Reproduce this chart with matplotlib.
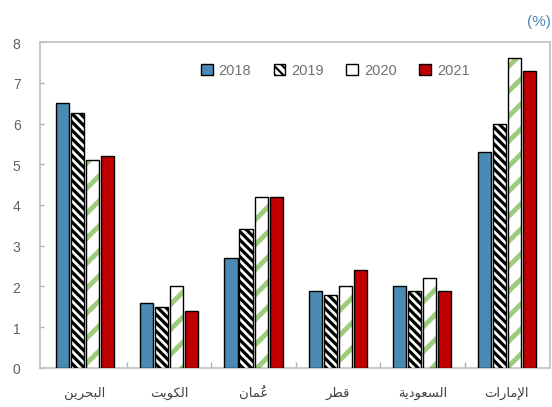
import numpy as np
import matplotlib
matplotlib.use("Agg")
import matplotlib.pyplot as plt
from matplotlib.patches import Patch

plt.rcParams['font.family'] = ['Liberation Sans', 'DejaVu Sans']

# data
countries = ['البحرين', 'الكويت', 'عُمان', 'قطر', 'السعودية', 'الإمارات']
years = ['2018', '2019', '2020', '2021']
v2018 = [6.5, 1.6, 2.7, 1.9, 2.0, 5.3]
v2019 = [6.25, 1.5, 3.4, 1.8, 1.9, 6.0]
v2020 = [5.1, 2.0, 4.2, 2.0, 2.2, 7.6]
v2021 = [5.2, 1.4, 4.2, 2.4, 1.9, 7.3]

# arabic letters -> presentation forms (iso, final[, initial, medial])
FORMS = {
    'ا': (0xFE8D, 0xFE8E), 'إ': (0xFE87, 0xFE88), 'د': (0xFEA9, 0xFEAA),
    'ر': (0xFEAD, 0xFEAE), 'و': (0xFEED, 0xFEEE), 'ة': (0xFE93, 0xFE94),
    'ب': (0xFE8F, 0xFE90, 0xFE91, 0xFE92), 'ت': (0xFE95, 0xFE96, 0xFE97, 0xFE98),
    'ح': (0xFEA1, 0xFEA2, 0xFEA3, 0xFEA4), 'س': (0xFEB1, 0xFEB2, 0xFEB3, 0xFEB4),
    'ط': (0xFEC1, 0xFEC2, 0xFEC3, 0xFEC4), 'ع': (0xFEC9, 0xFECA, 0xFECB, 0xFECC),
    'ق': (0xFED5, 0xFED6, 0xFED7, 0xFED8), 'ك': (0xFED9, 0xFEDA, 0xFEDB, 0xFEDC),
    'ل': (0xFEDD, 0xFEDE, 0xFEDF, 0xFEE0), 'م': (0xFEE1, 0xFEE2, 0xFEE3, 0xFEE4),
    'ن': (0xFEE5, 0xFEE6, 0xFEE7, 0xFEE8), 'ي': (0xFEF1, 0xFEF2, 0xFEF3, 0xFEF4),
    'لا': (0xFEFB, 0xFEFC), 'لإ': (0xFEF9, 0xFEFA),
}


def shape(word):
    toks = []
    i = 0
    while i < len(word):
        c = word[i]
        if c == 'ل' and i + 1 < len(word) and word[i + 1] in 'اإ':
            toks.append([c + word[i + 1], ''])
            i += 2
        elif c in FORMS:
            toks.append([c, ''])
            i += 1
        else:
            # diacritic, stick it on the previous letter
            toks[-1][1] += c
            i += 1
    out = []
    for k, (t, mark) in enumerate(toks):
        f = FORMS[t]
        jp = k > 0 and len(FORMS[toks[k - 1][0]]) == 4
        jn = len(f) == 4 and k < len(toks) - 1
        if jp and jn:
            g = f[3]
        elif jp:
            g = f[1]
        elif jn:
            g = f[2]
        else:
            g = f[0]
        out.append(mark + chr(g))
    return ''.join(out[::-1])


# drawn at 75 dpi so the hatch cells come out at the spacing of the original
S = 100 / 75
fig = plt.figure(figsize=(5.52 * S, 4.08 * S), dpi=75)
ax = fig.add_axes([0.0725, 0.0956, 0.9235, 0.799])

x = np.arange(len(countries))
w = 0.155
step = 0.178
off = [-1.5 * step, -0.5 * step, 0.5 * step, 1.5 * step]
lw = 1.0 * S

plt.rcParams['hatch.linewidth'] = 2.3 * S
b1 = ax.bar(x + off[0], v2018, w, color='#4b8bb3', edgecolor='black', linewidth=lw, zorder=3)
b2 = ax.bar(x + off[1], v2019, w, color='white', edgecolor='black', hatch='\\\\\\', linewidth=lw, zorder=3)
plt.rcParams['hatch.linewidth'] = 3.5 * S
ax.bar(x + off[2], v2020, w, color='white', edgecolor='#9ccc7c', hatch='/', linewidth=0, zorder=3)
b3 = ax.bar(x + off[2], v2020, w, color='none', edgecolor='black', linewidth=lw, zorder=4)
b4 = ax.bar(x + off[3], v2021, w, color='#c00000', edgecolor='black', linewidth=lw, zorder=3)

ax.set_xlim(-0.53, 5.51)
ax.set_ylim(0, 8)
ax.set_yticks(range(0, 9))
ax.set_xticks(x)
ax.set_xticklabels([shape(c) for c in countries], fontsize=9.5 * S, color='#404040',
                   family='DejaVu Sans')
ax.set_xticks(np.arange(0.5, 5.0, 1.0), minor=True)
ax.tick_params(axis='x', which='major', length=0, pad=13 * S)
ax.tick_params(axis='x', which='minor', direction='in', length=4 * S, width=S, color='#b0b0b0')
ax.tick_params(axis='y', direction='in', length=3 * S, width=S, color='#b0b0b0',
               labelsize=10 * S, labelcolor='#606060', pad=14 * S)
for s in ax.spines.values():
    s.set_color('#c0c0c0')
    s.set_linewidth(1.2 * S)

plt.rcParams['hatch.linewidth'] = 1.5 * S
handles = [Patch(facecolor='#4b8bb3', edgecolor='black', linewidth=lw),
           Patch(facecolor='white', edgecolor='black', hatch='\\\\\\', linewidth=lw),
           Patch(facecolor='white', edgecolor='black', linewidth=lw),
           Patch(facecolor='#c00000', edgecolor='black', linewidth=lw)]
ax.legend(handles, years, loc='upper left', bbox_to_anchor=(0.29, 0.975), ncol=4, frameon=False,
          handlelength=0.8, handleheight=0.8, handletextpad=0.4, columnspacing=1.55,
          fontsize=10.5 * S, labelcolor='#707070')

fig.text(0.998, 0.945, '(%)', ha='right', va='center', fontsize=11 * S, color='#4a86b8')

fig.savefig('out.png', dpi=75)
